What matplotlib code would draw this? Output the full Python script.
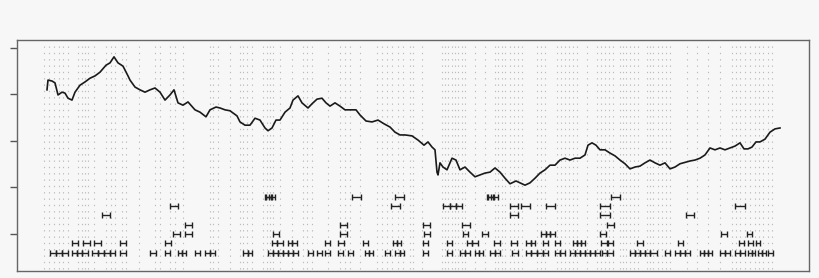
import matplotlib
matplotlib.use('Agg')
import matplotlib.pyplot as plt

# price series: day index, value
days = [47, 48, 52, 55, 58, 62, 65, 68, 72, 75, 80, 85, 90, 95, 100, 106, 110, 114, 118, 123,
        128, 130, 135, 140, 145, 150, 155, 160, 165, 170, 174, 178, 183, 188, 195, 200, 206, 210,
        216, 220, 225, 230, 237, 240, 245, 250, 255, 260, 265, 268, 272, 276, 280, 285, 290, 293,
        298, 302, 308, 312, 317, 322, 326, 330, 335, 340, 345, 350, 356, 360, 366, 372, 378, 384,
        390, 395, 400, 405, 412, 418, 424, 428, 432, 435, 437, 438, 440, 443, 447, 450, 452, 456,
        460, 465, 470, 475, 480, 485, 490, 495, 500, 505, 510, 516, 520, 525, 530, 535, 540, 545,
        550, 555, 560, 565, 570, 575, 580, 585, 588, 592, 596, 600, 605, 610, 615, 620, 625, 630,
        635, 640, 645, 650, 655, 660, 665, 670, 675, 680, 690, 695, 700, 705, 710, 715, 720, 725,
        730, 735, 740, 744, 748, 752, 756, 760, 765, 770, 775, 780]
price = [3.10, 3.31, 3.29, 3.25, 2.99, 3.05, 3.03, 2.92, 2.88, 3.05, 3.20, 3.27, 3.35, 3.40, 3.48,
         3.63, 3.68, 3.81, 3.68, 3.61, 3.40, 3.31, 3.16, 3.10, 3.05, 3.10, 3.14, 3.05, 2.88, 2.99,
         3.10, 2.82, 2.77, 2.84, 2.67, 2.62, 2.52, 2.67, 2.73, 2.71, 2.67, 2.65, 2.54, 2.41, 2.34,
         2.34, 2.49, 2.45, 2.28, 2.22, 2.28, 2.45, 2.45, 2.62, 2.71, 2.88, 2.97, 2.82, 2.71, 2.80,
         2.90, 2.92, 2.82, 2.75, 2.82, 2.75, 2.67, 2.67, 2.67, 2.56, 2.43, 2.41, 2.45, 2.37, 2.30,
         2.19, 2.13, 2.13, 2.11, 2.02, 1.91, 1.98, 1.87, 1.81, 1.33, 1.27, 1.53, 1.44, 1.38, 1.53,
         1.63, 1.59, 1.38, 1.44, 1.33, 1.23, 1.27, 1.31, 1.33, 1.42, 1.33, 1.20, 1.08, 1.14, 1.10,
         1.05, 1.10, 1.20, 1.31, 1.38, 1.48, 1.48, 1.59, 1.63, 1.59, 1.63, 1.63, 1.70, 1.91, 1.96,
         1.91, 1.81, 1.81, 1.74, 1.68, 1.59, 1.51, 1.40, 1.44, 1.46, 1.53, 1.59, 1.53, 1.48, 1.53,
         1.40, 1.44, 1.51, 1.57, 1.59, 1.63, 1.70, 1.85, 1.81, 1.85, 1.81, 1.85, 1.89, 1.96, 1.83,
         1.83, 1.87, 1.98, 1.98, 2.04, 2.19, 2.26, 2.28]

# intervals: (start day, end day) per level
levels = [0.8, 0.6, 0.4, 0.2, 0.0, -0.2, -0.4]
intervals = {
    0.8: [(265, 271), (266, 272), (269, 275), (352, 361), (395, 404), (487, 493), (488, 494),
          (491, 498), (611, 620)],
    0.6: [(170, 178), (391, 400), (443, 450), (450, 456), (456, 462), (510, 518), (521, 530),
          (546, 555), (600, 610), (735, 745)],
    0.4: [(102, 110), (510, 518), (600, 610), (686, 694)],
    0.2: [(185, 192), (340, 347), (423, 430), (462, 470), (607, 614)],
    0.0: [(173, 180), (185, 192), (273, 279), (340, 347), (424, 430), (463, 468), (482, 488),
          (541, 546), (546, 550), (550, 555), (600, 606), (721, 727), (747, 752)],
    -0.2: [(72, 78), (83, 90), (94, 101), (120, 126), (165, 171), (272, 277), (277, 283), (288, 292),
           (292, 297), (325, 330), (338, 344), (363, 368), (393, 397), (397, 401), (423, 428),
           (447, 452), (467, 472), (472, 478), (494, 500), (511, 517), (526, 531), (531, 535),
           (543, 548), (555, 560), (573, 577), (577, 581), (581, 585), (601, 607), (608, 613),
           (637, 643), (678, 683), (739, 744), (748, 753), (756, 760)],
    -0.4: [(50, 56), (56, 62), (62, 68), (72, 77), (77, 82), (82, 88), (92, 98), (98, 104), (104, 110),
           (110, 115), (120, 126), (150, 156), (165, 170), (178, 182), (182, 186), (195, 200),
           (205, 210), (210, 215), (243, 248), (248, 252), (268, 273), (273, 278), (278, 283),
           (283, 288), (288, 293), (293, 298), (308, 313), (317, 322), (325, 330), (338, 343),
           (348, 353), (365, 369), (369, 373), (385, 390), (395, 400), (400, 404), (423, 428),
           (447, 452), (460, 465), (465, 470), (475, 479), (479, 483), (490, 495), (495, 500),
           (512, 518), (526, 531), (531, 537), (537, 543), (543, 548), (555, 560), (560, 565),
           (570, 575), (575, 580), (580, 585), (585, 590), (590, 595), (595, 600), (602, 607),
           (607, 613), (630, 635), (635, 640), (640, 645), (645, 650), (650, 657), (665, 670),
           (675, 680), (680, 685), (685, 690), (700, 704), (704, 708), (708, 712), (720, 725),
           (725, 730), (735, 740), (740, 745), (748, 752), (752, 755), (758, 762), (762, 766),
           (768, 773)],
}

# faint background columns
columns = [44, 49, 54, 59, 63, 68, 78, 82, 85, 88, 94, 106, 111, 115, 122, 126, 139, 155, 160, 170,
           175, 183, 210, 213, 218, 230, 240, 243, 247, 252, 263, 267, 270, 273, 280, 292, 303, 307,
           312, 328, 340, 345, 350, 360, 377, 382, 387, 392, 398, 403, 410, 413, 422, 442, 445, 448,
           452, 455, 458, 462, 465, 475, 485, 495, 498, 502, 505, 510, 514, 518, 522, 537, 541, 545,
           557, 561, 565, 569, 573, 577, 587, 597, 601, 605, 609, 613, 620, 623, 626, 630, 634, 638,
           647, 650, 653, 658, 662, 666, 670, 687, 697, 708, 720, 732, 736, 740, 745, 750, 755, 759,
           763, 768, 772]

bg = '#f7f7f7'
fig = plt.figure(figsize=(8.2, 2.78), dpi=100, facecolor=bg)
ax = fig.add_axes([17 / 820, 1 - 271 / 278, 792 / 820, 231 / 278], facecolor=bg)
ax.set_xlim(17, 809)
ax.set_ylim(-0.796, 4.172)

ax.vlines(columns, -0.75, 4.13, colors='#bcbcbc', linewidth=0.8,
          linestyles=(0, (1.2, 4.5)), zorder=1)

ax.plot(days, price, color='#1a1a1a', linewidth=1.2, zorder=3)

for lv in levels:
    segs = intervals[lv]
    mids = [(s + e) / 2 for s, e in segs]
    half = [(e - s) / 2 for s, e in segs]
    ax.errorbar(mids, [lv] * len(segs), xerr=half, fmt='none', ecolor='#222222',
                elinewidth=1.0, capsize=2, capthick=1.0, zorder=4)

ax.set_xticks([])
ax.set_yticks([0, 1, 2, 3, 4])
ax.set_yticklabels([])
ax.tick_params(axis='y', direction='out', length=5, width=1, colors='#555555')
for sp in ax.spines.values():
    sp.set_color('#666666')
    sp.set_linewidth(1)

plt.savefig('out.png', dpi=100, facecolor=bg)
